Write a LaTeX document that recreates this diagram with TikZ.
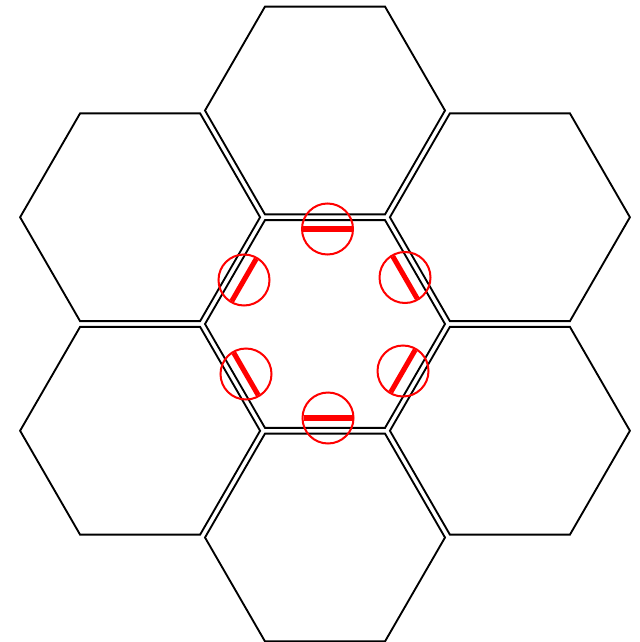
\documentclass[tikz,border=0pt]{standalone}
\begin{document}
\begin{tikzpicture}[x=0.75pt,y=-0.75pt,
  hexline/.style={draw=black,line width=1.4pt,line join=miter},
  ring/.style={draw=red,line width=1.5pt},
  redbar/.style={draw=red,line width=3.8pt}]
\useasboundingbox (0,0) rectangle (639,642);
% hexagons
\foreach \n/\x/\y in {c/325/324, t/325/110.5, b/325/537.5, ul/140.1/217.25, ll/140.1/430.75, ur/509.9/217.25, lr/509.9/430.75}{
  \coordinate (\n) at (\x,\y);
  \draw[hexline,shift={(\n)}] (0:120) -- (60:120) -- (120:120) -- (180:120) -- (240:120) -- (300:120) -- cycle;
}
% red markers: name/x/y/dx/dy (bar half-vector)
\foreach \n/\x/\y/\dx/\dy in {mt/327.5/229/24.5/0, mb/328/418/24.5/0, mul/244/280/12.25/-21.2, mur/405/277.5/12.25/21.2, mll/246/374/12.25/21.2, mlr/403/371/12.25/-21.2}{
  \coordinate (\n) at (\x,\y);
  \draw[ring] (\n) circle[radius=25.5];
  \draw[redbar] ([shift={(-\dx,-\dy)}]\n) -- ([shift={(\dx,\dy)}]\n);
}
\end{tikzpicture}
\end{document}
